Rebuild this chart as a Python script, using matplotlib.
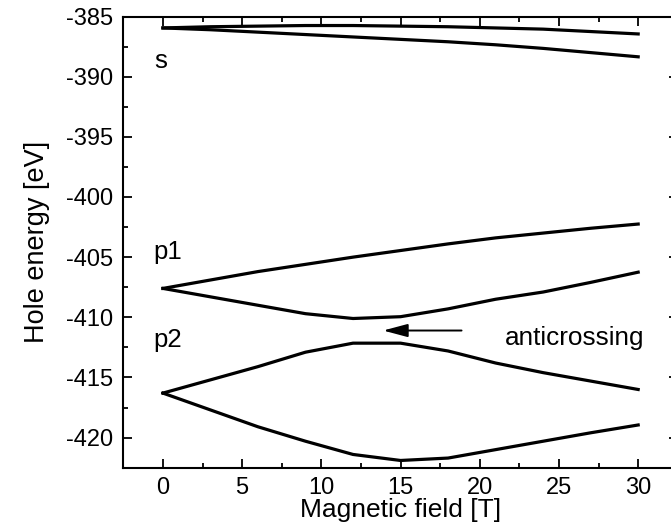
import numpy as np
import matplotlib.pyplot as plt
from matplotlib.ticker import MultipleLocator

plt.rcParams['font.family'] = ['Liberation Sans', 'DejaVu Sans']
plt.rcParams['axes.unicode_minus'] = False

# magnetic field values [T]
field = [0, 3, 6, 9, 12, 15, 18, 21, 24, 27, 30]

# hole energies [eV]
s_up = [-385.95, -385.85, -385.8, -385.75, -385.75, -385.8, -385.85, -385.95, -386.05, -386.25, -386.45]
s_low = [-385.95, -386.1, -386.3, -386.5, -386.7, -386.9, -387.1, -387.35, -387.65, -388.0, -388.35]
p1_up = [-407.6, -406.9, -406.2, -405.6, -405.0, -404.45, -403.9, -403.4, -403.0, -402.6, -402.25]
p1_low = [-407.6, -408.3, -409.0, -409.7, -410.1, -409.95, -409.3, -408.5, -407.9, -407.1, -406.25]
p2_up = [-416.3, -415.2, -414.1, -412.9, -412.15, -412.15, -412.8, -413.8, -414.6, -415.3, -416.0]
p2_low = [-416.3, -417.7, -419.1, -420.3, -421.4, -421.9, -421.7, -421.0, -420.3, -419.6, -418.95]

fig = plt.figure(figsize=(6.71, 5.29), dpi=100)
ax = fig.add_axes([0.1838, 0.1159, 0.8263, 0.8529])

for e in [s_up, s_low, p1_up, p1_low, p2_up, p2_low]:
    ax.plot(field, e, color='black', lw=2.3, solid_joinstyle='round')

ax.set_xlim(-2.5, 32.5)
ax.set_ylim(-422.5, -385)
ax.xaxis.set_major_locator(MultipleLocator(5))
ax.xaxis.set_minor_locator(MultipleLocator(2.5))
ax.yaxis.set_major_locator(MultipleLocator(5))
ax.yaxis.set_minor_locator(MultipleLocator(2.5))
ax.tick_params(which='both', direction='in', top=True, right=True, width=1.3,
               labelsize=17, pad=7)
ax.tick_params(which='major', length=6.5)
ax.tick_params(which='minor', length=3.6)
for sp in ax.spines.values():
    sp.set_linewidth(1.5)

ax.set_xlabel('Magnetic field [T]', fontsize=19, labelpad=-1)
ax.set_ylabel('Hole energy [eV]', fontsize=19.5, labelpad=12)

ax.text(-0.15, -388.7, 's', fontsize=18.5, ha='center', va='center')
ax.text(0.3, -404.6, 'p1', fontsize=18.5, ha='center', va='center')
ax.text(0.3, -411.9, 'p2', fontsize=18.5, ha='center', va='center')
ax.text(26.0, -411.75, 'anticrossing', fontsize=18.8, ha='center', va='center')
ax.annotate('', xy=(13.9, -411.1), xytext=(18.85, -411.1),
            arrowprops=dict(arrowstyle='-|>,head_length=1.5,head_width=0.4',
                            color='black', lw=1.4, shrinkA=0, shrinkB=0))

fig.savefig('out.png', dpi=100)
